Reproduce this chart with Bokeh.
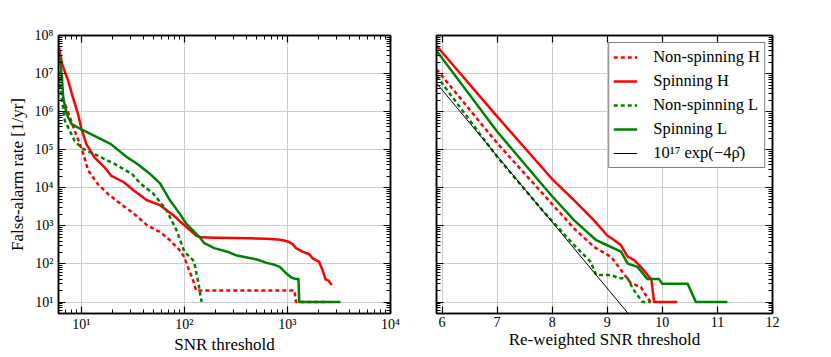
from bokeh.plotting import figure
from bokeh.models import (LogAxis, LinearAxis, FixedTicker, CustomJSTickFormatter,
                          Range1d, Legend, LegendItem, CustomLabelingPolicy)
from bokeh.layouts import row
from bokeh.embed import file_html
from bokeh.resources import INLINE

# ---------------- data ----------------
# Left panel: false-alarm rate vs SNR threshold
snr_nonspin_H = [6.0, 6.3, 6.8, 7.4, 8.0, 9.0, 9.6, 10.4, 11.6, 14.4, 18, 24, 32.3, 43.3, 58, 72.4,
                 90, 100, 108, 121, 130, 1170, 1210, 2530]
far_nonspin_H = [1.2e7, 4e6, 1.8e6, 1.0e6, 5.5e5, 2.3e5, 1.5e5, 8e4, 2.9e4, 1.27e4, 7e3, 3.8e3, 2.1e3,
                 1.05e3, 6.9e2, 4.2e2, 2.3e2, 1.5e2, 84, 38, 20, 20, 10, 10]

snr_spin_H = [6.0, 6.5, 7.45, 8.3, 9.28, 10.0, 11.2, 13.4, 16.7, 19.4, 25.9, 32.3, 43.3, 58, 78, 104,
              130, 145, 200, 300, 450, 628, 800, 908, 1000, 1130, 1210, 1400, 1630, 1757, 2030,
              2190, 2345, 2500, 2690]
far_spin_H = [5.9e7, 1.8e7, 6.5e6, 2.3e6, 8.7e5, 3.6e5, 1.4e5, 6.3e4, 3.5e4, 2.1e4, 1.4e4, 8.5e3,
              4.7e3, 3.5e3, 1.9e3, 9.4e2, 5.6e2, 5.0e2, 4.9e2, 4.8e2, 4.7e2, 4.6e2, 4.4e2, 4.2e2,
              3.9e2, 3.3e2, 2.6e2, 2.1e2, 1.8e2, 1.4e2, 1.13e2, 69, 39, 37, 28]

snr_nonspin_L = [6.0, 6.2, 6.44, 6.9, 7.7, 8.6, 10.4, 14.4, 20.8, 31, 37.4, 50, 67, 84, 100, 121,
                 125, 135, 147]
far_nonspin_L = [8e6, 6.5e6, 2.3e6, 5.8e5, 3.2e5, 1.7e5, 1.05e5, 7e4, 4.3e4, 2.3e4, 1.3e4, 7e3,
                 2.6e3, 7.6e2, 2.1e2, 1.26e2, 1.03e2, 38, 10]

snr_spin_L = [6.0, 6.44, 6.67, 7.2, 8.0, 10, 13.4, 19.4, 27.9, 34.7, 46.6, 58, 72.4, 90, 104, 125,
              140, 156, 195, 261, 315, 405, 505, 628, 750, 843, 978, 1090, 1210, 1280, 1300, 3270]
far_spin_L = [4e7, 9.8e6, 2.3e6, 8.7e5, 4.8e5, 3.4e5, 2.3e5, 1.4e5, 6.3e4, 4.3e4, 2.3e4, 1.3e4,
              4.7e3, 2.1e3, 1.15e3, 7e2, 5.1e2, 3.5e2, 2.6e2, 2.1e2, 1.7e2, 1.48e2, 1.31e2, 1.07e2,
              9.5e1, 8.4e1, 5.6e1, 4.4e1, 4.0e1, 4.0e1, 10, 10]

# Right panel: false-alarm rate vs re-weighted SNR threshold
rw_nonspin_H = [5.9, 7.0, 7.8, 8.4, 8.76, 9.07, 9.25, 9.43, 9.61, 9.70, 9.79]
rwfar_nonspin_H = [1.3e7, 1.5e5, 7.8e3, 8.5e2, 2.8e2, 1.55e2, 69, 31, 25, 15, 10]

rw_spin_H = [5.9, 7.0, 8.0, 8.40, 8.76, 9.0, 9.13, 9.25, 9.37, 9.49, 9.61, 9.76, 9.80, 9.85, 10.27]
rwfar_spin_H = [5.4e7, 7.5e5, 1.7e4, 4.7e3, 1.4e3, 5.6e2, 4.2e2, 3.1e2, 1.55e2, 1.26e2, 84, 46, 40,
                10, 10]

rw_nonspin_L = [5.9, 7.0, 7.8, 8.1, 8.4, 8.7, 8.8, 9.07, 9.22, 9.37, 9.46, 9.55, 9.64, 9.79]
rwfar_nonspin_L = [8.7e6, 6.5e4, 2.8e3, 9.3e2, 3.1e2, 1.14e2, 51, 51, 42, 42, 23, 15, 10, 10]

rw_spin_L = [5.9, 7.0, 7.8, 8.0, 8.4, 8.8, 9.0, 9.25, 9.37, 9.55, 9.73, 9.94, 10.0, 10.46, 10.61,
             11.18]
rwfar_spin_L = [4e7, 3e5, 1.3e4, 6e3, 1.4e3, 4.2e2, 3.1e2, 2.1e2, 1.03e2, 84, 40, 40, 30, 30, 10, 10]

ref_x = [5.9, 9.5]
ref_y = [5.6e6, 3.1]

y_ticks = [1e1, 1e2, 1e3, 1e4, 1e5, 1e6, 1e7, 1e8]
x_ticks_left = [1e1, 1e2, 1e3, 1e4]
x_ticks_right = [6, 7, 8, 9, 10, 11, 12]

legend_labels = ["Non-spinning H", "Spinning H", "Non-spinning L", "Spinning L",
                 "10\u00b9\u2077 exp(\u22124\u03c1\u0302)"]

# ---------------- styling ----------------
RED = "#ff0000"
GREEN = "#008000"
FONT = "Liberation Serif"
DOT = "4 3"
LW = 2.5
H = 357


def minors(decades, lo, hi):
    out = []
    for d in decades:
        for m in range(2, 10):
            v = m * d
            if lo <= v <= hi:
                out.append(v)
    return out


pow_fmt = CustomJSTickFormatter(code="""
const s = {'0':'\u2070','1':'\u00b9','2':'\u00b2','3':'\u00b3','4':'\u2074','5':'\u2075',
           '6':'\u2076','7':'\u2077','8':'\u2078','9':'\u2079','-':'\u207b'};
const e = Math.round(Math.log10(tick));
return '10' + String(e).split('').map(c => s[c]).join('');
""")
no_labels = CustomLabelingPolicy(code="return new Set();")

y_ticker = FixedTicker(ticks=y_ticks, minor_ticks=minors([1, 10, 100, 1e3, 1e4, 1e5, 1e6, 1e7], 5, 1e8))
xl_ticker = FixedTicker(ticks=x_ticks_left, minor_ticks=minors([1, 10, 100, 1e3], 6, 1e4))
xr_ticker = FixedTicker(ticks=x_ticks_right, minor_ticks=[])


def style_axis(ax, labels=True):
    ax.major_tick_in = 7
    ax.major_tick_out = 0
    ax.minor_tick_in = 4
    ax.minor_tick_out = 0
    ax.axis_line_width = 1.5
    ax.axis_line_color = "black"
    ax.major_tick_line_width = 1.2
    ax.minor_tick_line_width = 1
    ax.major_tick_line_color = "black"
    ax.minor_tick_line_color = "black"
    ax.major_label_text_font = FONT
    ax.major_label_text_font_size = "14px"
    ax.major_label_text_color = "black"
    ax.axis_label_text_font = FONT
    ax.axis_label_text_font_size = "17px"
    ax.axis_label_text_font_style = "normal"
    ax.axis_label_text_color = "black"
    if not labels:
        ax.major_label_policy = no_labels
        ax.major_label_standoff = 0


def make_fig(x_type, x_range, width, bl, br, xticker, xaxis_cls):
    p = figure(width=width, height=H, x_axis_type=x_type, y_axis_type="log",
               x_range=x_range, y_range=Range1d(5, 1e8),
               output_backend="svg", toolbar_location=None,
               min_border_left=bl, min_border_right=br, min_border_top=35, min_border_bottom=44)
    p.outline_line_color = "black"
    p.outline_line_width = 1.5
    p.background_fill_color = "white"
    p.border_fill_color = "white"
    bottom = p.below[0]
    left = p.left[0]
    bottom.ticker = xticker
    left.ticker = y_ticker
    style_axis(bottom)
    style_axis(left)
    bottom.major_label_standoff = 3
    bottom.axis_label_standoff = 0
    left.major_label_standoff = 5
    left.axis_label_standoff = 5
    ra = LogAxis(ticker=y_ticker)
    style_axis(ra, labels=False)
    p.add_layout(ra, "right")
    ta = xaxis_cls(ticker=xticker)
    style_axis(ta, labels=False)
    p.add_layout(ta, "above")
    p.xgrid.ticker = xticker
    p.ygrid.ticker = y_ticker
    for g in (p.xgrid, p.ygrid):
        g.grid_line_color = "#cccccc"
        g.grid_line_width = 1
    return p, bottom, left


# ---------------- left panel ----------------
p1, b1, l1 = make_fig("log", Range1d(6, 1e4), 412, 58, 16, xl_ticker, LogAxis)
b1.formatter = pow_fmt
l1.formatter = pow_fmt
b1.axis_label = "SNR threshold"
l1.axis_label = "False-alarm rate [1/yr]"

p1.line(snr_nonspin_H, far_nonspin_H, color=RED, line_width=LW, line_dash=DOT)
p1.line(snr_spin_H, far_spin_H, color=RED, line_width=LW, line_join="round")
p1.line(snr_nonspin_L, far_nonspin_L, color=GREEN, line_width=LW, line_dash=DOT)
p1.line(snr_spin_L, far_spin_L, color=GREEN, line_width=LW, line_join="round")

# ---------------- right panel ----------------
p2, b2, l2 = make_fig("linear", Range1d(5.9, 12), 418, 24, 58, xr_ticker, LinearAxis)
b2.formatter = CustomJSTickFormatter(code="return String(tick);")
l2.major_label_policy = no_labels
l2.major_label_standoff = 0
b2.axis_label = "Re-weighted SNR threshold"

r1 = p2.line(rw_nonspin_H, rwfar_nonspin_H, color=RED, line_width=LW, line_dash=DOT)
r2 = p2.line(rw_spin_H, rwfar_spin_H, color=RED, line_width=LW, line_join="round")
r3 = p2.line(rw_nonspin_L, rwfar_nonspin_L, color=GREEN, line_width=LW, line_dash=DOT)
r4 = p2.line(rw_spin_L, rwfar_spin_L, color=GREEN, line_width=LW, line_join="round")
r5 = p2.line(ref_x, ref_y, color="black", line_width=1)

legend = Legend(items=[LegendItem(label=lab, renderers=[r]) for lab, r in
                       zip(legend_labels, [r1, r2, r3, r4, r5])],
                location="top_right")
legend.border_line_color = "black"
legend.border_line_width = 1.5
legend.background_fill_alpha = 1
legend.label_text_font = FONT
legend.label_text_font_size = "16.5px"
legend.label_text_color = "black"
legend.glyph_width = 24
legend.glyph_height = 18
legend.label_height = 18
legend.spacing = 4
legend.padding = 4
legend.margin = 7
legend.label_standoff = 16
p2.add_layout(legend)

layout = row(p1, p2)
open("out.html", "w").write(file_html(layout, INLINE))
